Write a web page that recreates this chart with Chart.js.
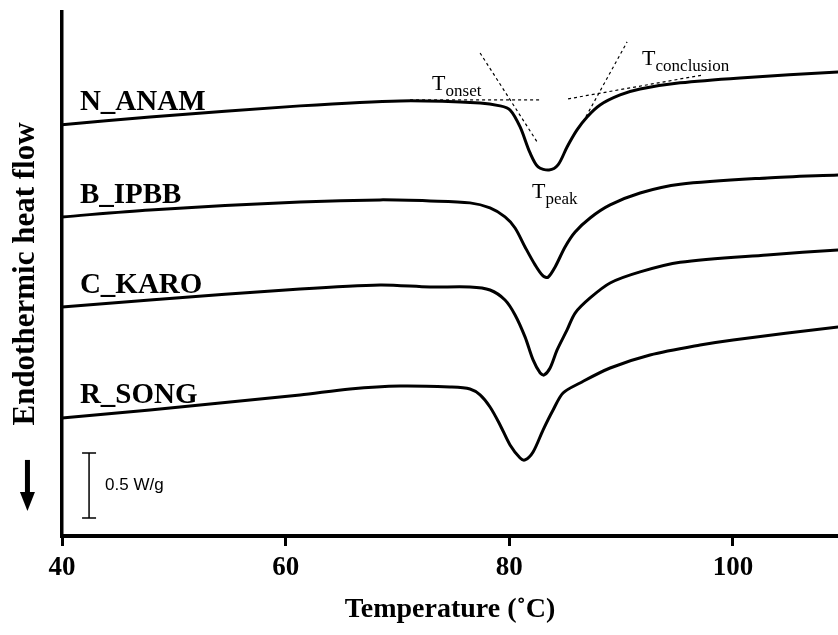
<!DOCTYPE html>
<html>
<head>
<meta charset="utf-8">
<script src="https://cdn.jsdelivr.net/npm/chart.js@4.4.0/dist/chart.umd.min.js"></script>
<style>
  html, body { margin: 0; padding: 0; background: #fff; }
</style>
</head>
<body>
<canvas id="dsc" width="838" height="635"></canvas>
<script>
// DSC thermograms, temperature in °C, heat flow in W/g (curves offset vertically)
const anamTemp = [40.00, 47.87, 61.29, 70.23, 77.39, 79.18, 80.07, 80.97, 81.86, 82.58, 83.56, 84.36, 85.17, 86.06, 86.96, 88.12, 89.91, 91.70, 95.28, 100.64, 109.41];
const anamFlow = [3.162, 3.223, 3.308, 3.346, 3.331, 3.308, 3.277, 3.146, 2.946, 2.838, 2.815, 2.854, 2.992, 3.123, 3.223, 3.315, 3.392, 3.438, 3.485, 3.523, 3.569];

const ipbbTemp = [40.00, 47.87, 61.29, 68.44, 72.92, 76.49, 78.28, 79.62, 80.52, 81.41, 82.31, 83.02, 83.47, 84.10, 84.99, 85.89, 87.23, 89.02, 91.70, 95.28, 103.06, 109.41];
const ipbbFlow = [2.454, 2.508, 2.569, 2.585, 2.577, 2.562, 2.523, 2.454, 2.369, 2.223, 2.085, 2.000, 1.990, 2.069, 2.223, 2.338, 2.446, 2.546, 2.638, 2.705, 2.754, 2.777];

const karoTemp = [40.00, 47.87, 61.29, 68.44, 72.92, 76.49, 78.28, 79.62, 80.52, 81.41, 82.13, 82.76, 83.11, 83.65, 84.28, 85.17, 85.89, 87.23, 89.02, 91.70, 95.28, 103.06, 109.41];
const karoFlow = [1.762, 1.815, 1.900, 1.931, 1.915, 1.915, 1.892, 1.815, 1.700, 1.531, 1.354, 1.254, 1.238, 1.292, 1.431, 1.585, 1.715, 1.831, 1.946, 2.031, 2.105, 2.162, 2.200];

const songTemp = [40.00, 47.87, 61.29, 65.76, 70.23, 74.70, 76.49, 77.39, 78.28, 79.18, 80.07, 80.97, 81.41, 82.13, 83.02, 83.92, 84.81, 86.33, 89.02, 92.59, 97.07, 100.02, 109.41];
const songFlow = [0.908, 0.969, 1.085, 1.131, 1.154, 1.146, 1.131, 1.085, 0.992, 0.854, 0.700, 0.600, 0.585, 0.646, 0.815, 0.969, 1.100, 1.177, 1.292, 1.392, 1.469, 1.508, 1.608];

const sampleNames = ['N_ANAM', 'B_IPBB', 'C_KARO', 'R_SONG'];
const xTicks = [40, 60, 80, 100];

// tangent construction on N_ANAM: [x1, y1, x2, y2]
const onsetBase = [71.13, 3.354, 82.76, 3.354];
const onsetSlope = [77.39, 3.715, 82.49, 3.031];
const conclBase = [85.26, 3.362, 97.33, 3.546];
const conclSlope = [86.60, 3.185, 90.54, 3.800];

// label anchors (data units)
const nameX = 41.6;
const nameY = [3.277, 2.562, 1.869, 1.023];
const tLabels = [
  { main: 'T', sub: 'onset', x: 73.1, y: 3.431 },
  { main: 'T', sub: 'conclusion', x: 91.88, y: 3.623 },
  { main: 'T', sub: 'peak', x: 82.04, y: 2.60 }
];
const scaleBar = { x: 42.42, y0: 0.138, y1: 0.638, text: '0.5 W/g' };
const arrowPos = { x: 36.91, y0: 0.585, y1: 0.192 };

function pts(xs, ys) {
  return xs.map((x, i) => ({ x: x, y: ys[i] }));
}
function seg(s) {
  return [{ x: s[0], y: s[1] }, { x: s[2], y: s[3] }];
}

const curveStyle = {
  borderColor: '#000',
  borderWidth: 3,
  pointRadius: 0,
  fill: false,
  tension: 0.3
};
const dashStyle = {
  borderColor: '#000',
  borderWidth: 1.2,
  borderDash: [3, 3],
  pointRadius: 0,
  fill: false,
  tension: 0
};

const annotations = {
  id: 'annotations',
  afterDatasetsDraw(chart) {
    const ctx = chart.ctx;
    const xs = chart.scales.x, ys = chart.scales.y;
    ctx.save();
    ctx.fillStyle = '#000';
    ctx.strokeStyle = '#000';

    // sample names
    ctx.font = 'bold 29px "Liberation Serif"';
    ctx.textBaseline = 'alphabetic';
    ctx.textAlign = 'left';
    sampleNames.forEach((n, i) => {
      ctx.fillText(n, xs.getPixelForValue(nameX), ys.getPixelForValue(nameY[i]));
    });

    // T labels with subscripts
    tLabels.forEach(t => {
      const px = xs.getPixelForValue(t.x), py = ys.getPixelForValue(t.y);
      ctx.font = '22px "Liberation Serif"';
      ctx.fillText(t.main, px, py);
      const w = ctx.measureText(t.main).width;
      ctx.font = '17px "Liberation Serif"';
      ctx.fillText(t.sub, px + w, py + 6);
    });

    // scale bar
    const bx = xs.getPixelForValue(scaleBar.x);
    const b0 = ys.getPixelForValue(scaleBar.y0), b1 = ys.getPixelForValue(scaleBar.y1);
    ctx.lineWidth = 1.5;
    ctx.beginPath();
    ctx.moveTo(bx, b0); ctx.lineTo(bx, b1);
    ctx.moveTo(bx - 7, b0); ctx.lineTo(bx + 7, b0);
    ctx.moveTo(bx - 7, b1); ctx.lineTo(bx + 7, b1);
    ctx.stroke();
    ctx.font = '17px "Liberation Sans"';
    ctx.textBaseline = 'middle';
    ctx.fillText(scaleBar.text, bx + 16, (b0 + b1) / 2);

    // down arrow beside the axis title
    const ax = xs.getPixelForValue(arrowPos.x);
    const a0 = ys.getPixelForValue(arrowPos.y0), a1 = ys.getPixelForValue(arrowPos.y1);
    ctx.fillRect(ax - 2.5, a0, 5, (a1 - a0) - 18);
    ctx.beginPath();
    ctx.moveTo(ax - 7.5, a1 - 19);
    ctx.lineTo(ax + 7.5, a1 - 19);
    ctx.lineTo(ax, a1);
    ctx.closePath();
    ctx.fill();
    ctx.restore();
  }
};

new Chart(document.getElementById('dsc').getContext('2d'), {
  type: 'line',
  data: {
    datasets: [
      Object.assign({ label: sampleNames[0], data: pts(anamTemp, anamFlow) }, curveStyle),
      Object.assign({ label: sampleNames[1], data: pts(ipbbTemp, ipbbFlow) }, curveStyle),
      Object.assign({ label: sampleNames[2], data: pts(karoTemp, karoFlow) }, curveStyle),
      Object.assign({ label: sampleNames[3], data: pts(songTemp, songFlow) }, curveStyle),
      Object.assign({ label: 'onset base', data: seg(onsetBase) }, dashStyle),
      Object.assign({ label: 'onset slope', data: seg(onsetSlope) }, dashStyle),
      Object.assign({ label: 'conclusion base', data: seg(conclBase) }, dashStyle),
      Object.assign({ label: 'conclusion slope', data: seg(conclSlope) }, dashStyle)
    ]
  },
  options: {
    responsive: false,
    animation: false,
    devicePixelRatio: 1,
    layout: { padding: { top: 12, left: 0, right: 0, bottom: 0 } },
    plugins: {
      legend: { display: false },
      tooltip: { enabled: false }
    },
    scales: {
      x: {
        type: 'linear',
        min: 40,
        max: 109.4,
        afterFit(scale) { scale.height = 99; },
        afterBuildTicks(scale) { scale.ticks = xTicks.map(v => ({ value: v })); },
        grid: {
          drawOnChartArea: false,
          drawTicks: true,
          tickLength: 10,
          tickWidth: 3,
          tickColor: '#000'
        },
        border: { display: true, color: '#000', width: 4 },
        ticks: {
          color: '#000',
          padding: 6,
          maxRotation: 0,
          font: { family: 'Liberation Serif', size: 27, weight: 'bold' }
        },
        title: {
          display: true,
          text: 'Temperature (˚C)',
          color: '#000',
          padding: { top: 0, bottom: 8 },
          font: { family: 'Liberation Serif', size: 28, weight: 'bold' }
        }
      },
      y: {
        type: 'linear',
        min: 0,
        max: 4.03,
        afterFit(scale) { scale.width = 62; },
        grid: { display: false },
        border: { display: true, color: '#000', width: 3.5 },
        ticks: { display: false },
        title: {
          display: true,
          text: 'Endothermic heat flow',
          color: '#000',
          padding: { top: 7, bottom: 0 },
          font: { family: 'Liberation Serif', size: 31, weight: 'bold' }
        }
      }
    }
  },
  plugins: [annotations]
});
</script>
</body>
</html>
